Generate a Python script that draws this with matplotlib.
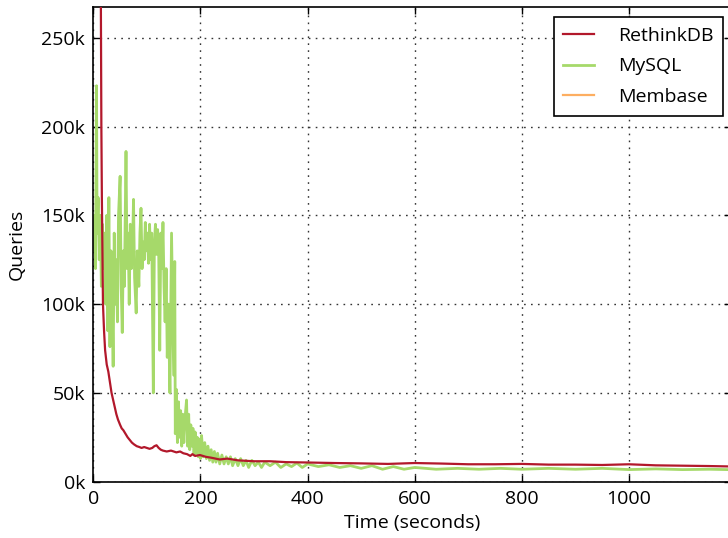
import matplotlib

matplotlib.use("Agg")
import matplotlib.pyplot as plt
from matplotlib.ticker import FuncFormatter

plt.rcParams["font.family"] = ["Open Sans", "DejaVu Sans"]

# values in thousands of queries
rethink_t = [13, 15, 16, 17, 18, 20, 22, 25, 28, 31, 34, 37, 40, 43, 46, 50, 53, 56, 60, 64,
             68, 72, 76, 81, 86, 90, 95, 100, 105, 110, 114, 118, 122, 126, 130, 137, 145, 150,
             155, 162, 168, 175, 181, 185, 190, 199, 210, 220, 236, 250, 270, 300, 330, 360,
             400, 450, 500, 550, 600, 650, 700, 750, 800, 850, 900, 950, 1000, 1050, 1100,
             1150, 1200]
rethink_q = [350, 200, 158, 130, 100, 85, 74, 66, 62, 56, 50, 46, 42, 38, 35, 32, 30, 29, 27, 25,
             23.5, 22, 21, 20, 19.5, 19, 19.5, 19, 18.5, 19, 20, 20.5, 19, 18, 17.5, 17, 17.5, 17,
             16.5, 17, 16, 15.5, 14.5, 15.5, 14.5, 15, 14, 13.5, 12.5, 13, 12, 11.5, 11.5, 11,
             10.8, 10.5, 10.3, 10, 10.5, 10.2, 9.8, 9.8, 10, 9.6, 9.6, 9.4, 9.8, 9.2, 9,
             8.8, 8.5]

mysql_t = [0, 2, 4, 6, 7, 9, 11, 13, 15, 17, 19, 21, 23, 25, 27, 29, 31, 33, 35, 37, 39, 41, 43,
           45, 47, 50, 52, 54, 56, 58, 61, 63, 65, 67, 69, 71, 73, 75, 77, 80, 82, 85, 87, 89,
           91, 93, 95, 97, 99, 101, 103, 105, 107, 109, 112, 114, 116, 118, 120, 122, 124, 126,
           128, 130, 132, 134, 136, 138, 140, 143, 146, 148, 150, 152, 153, 155, 157, 159, 161,
           163, 165, 167, 169, 171, 174, 176, 178, 180, 182, 184, 186, 188, 190, 192, 194, 196,
           198, 200, 202, 205, 208, 211, 214, 217, 220, 223, 226, 229, 232, 236, 240, 244, 248,
           252, 256, 260, 265, 270, 275, 280, 285, 290, 296, 302, 308, 314, 320, 330, 340, 350,
           360, 370, 380, 390, 400, 420, 440, 460, 480, 500, 520, 540, 560, 580, 600, 640, 680,
           720, 760, 800, 850, 900, 950, 1000, 1050, 1100, 1150, 1200]
mysql_q = [130, 150, 120, 223, 140, 160, 125, 150, 110, 145, 120, 140, 100, 150, 85, 160, 76, 130,
           105, 65, 140, 100, 125, 90, 150, 172, 110, 84, 130, 110, 186, 120, 140, 100, 145, 120,
           130, 159, 115, 95, 130, 110, 140, 154, 120, 135, 125, 146, 130, 140, 123, 145, 125,
           140, 50, 135, 145, 128, 142, 130, 74, 140, 120, 146, 110, 90, 120, 70, 100, 50, 140,
           100, 60, 124, 27, 52, 22, 45, 25, 40, 20, 38, 22, 35, 46, 20, 38, 18, 32, 20, 30, 15,
           28, 16, 25, 14, 24, 13, 26, 14, 22, 13, 20, 12, 18, 11, 17, 11, 16, 10, 15, 10, 14,
           10, 14, 9, 13, 9, 13, 9, 12, 8, 12, 9, 11, 8, 11, 9, 11, 8, 10, 8.5, 10.5, 8, 10, 8.5,
           9.5, 8, 9, 7.5, 9, 7, 8.5, 7, 8, 7, 7.5, 7, 7.5, 7, 7.5, 7, 7.5, 6.8, 7.2, 6.8, 7, 6.7]

membase_t = []
membase_q = []

x_ticks = [0, 200, 400, 600, 800, 1000]
y_ticks = [0, 50, 100, 150, 200, 250]

fig = plt.figure(figsize=(7.28, 5.38), dpi=100)
ax = fig.add_axes([0.1282, 0.1047, 0.8756, 0.8828])

ax.plot(mysql_t, mysql_q, color="#a6d96a", linewidth=2.0, label="MySQL", zorder=2)
ax.plot(rethink_t, rethink_q, color="#b2182b", linewidth=1.6, label="RethinkDB", zorder=3)
ax.plot(membase_t, membase_q, color="#fdae61", linewidth=1.6, label="Membase")

ax.set_xlim(0, 1190)
ax.set_ylim(0, 267.5)
ax.set_xticks(x_ticks)
ax.set_yticks(y_ticks)
ax.yaxis.set_major_formatter(FuncFormatter(lambda v, _: f"{int(v)}k"))
ax.tick_params(direction="in", top=True, right=True, length=5, width=1, labelsize=14, pad=6)
ax.grid(True, color="#333333", linestyle=(0, (1.2, 3.8)), linewidth=1.0)
for spine in ax.spines.values():
    spine.set_linewidth(1.2)

ax.set_xlabel("Time (seconds)", fontsize=14)
ax.set_ylabel("Queries", fontsize=14, labelpad=11)

handles, labels = ax.get_legend_handles_labels()
order = [1, 0, 2]
leg = ax.legend(
    [handles[i] for i in order],
    [labels[i] for i in order],
    loc="upper right",
    bbox_to_anchor=(0.9931, 0.9684),
    bbox_transform=fig.transFigure,
    borderaxespad=0,
    fontsize=14,
    fancybox=False,
    framealpha=1,
    edgecolor="black",
    labelspacing=0.65,
    borderpad=0.5,
    handlelength=1.6,
    handletextpad=1.2,
)
leg.get_frame().set_linewidth(1.2)

fig.savefig("out.png", dpi=100)
